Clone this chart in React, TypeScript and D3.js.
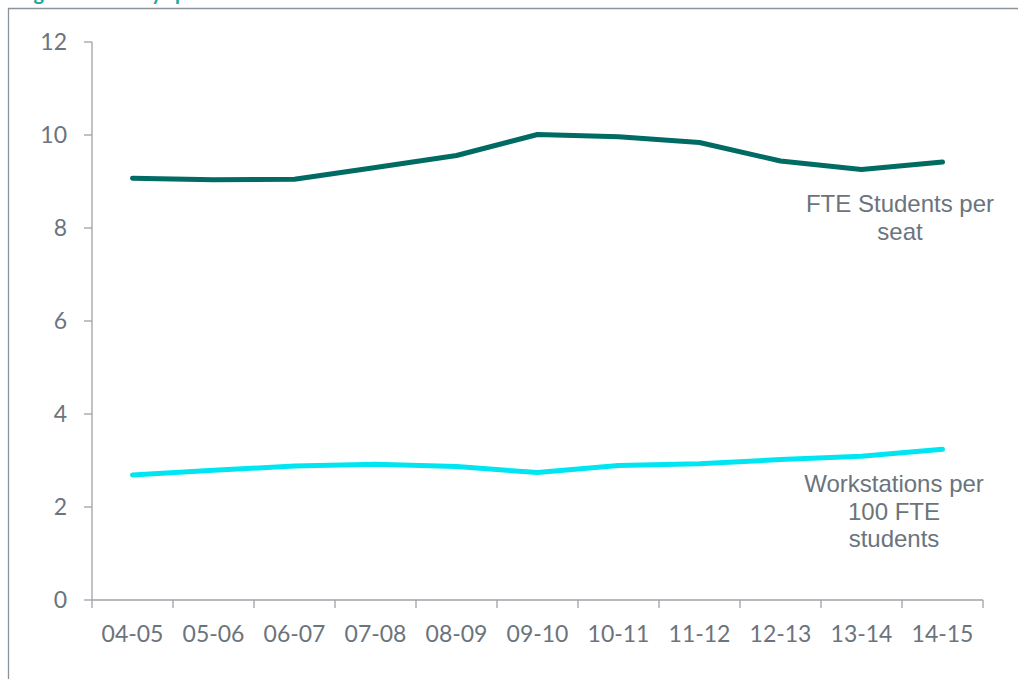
import React from "react";
import { scaleBand, scaleLinear, line } from "d3";

const years = ["04-05", "05-06", "06-07", "07-08", "08-09", "09-10", "10-11", "11-12", "12-13", "13-14", "14-15"];
const studentsPerSeat = [9.07, 9.04, 9.05, 9.3, 9.56, 10.01, 9.96, 9.84, 9.44, 9.26, 9.42];
const workstationsPer100 = [2.69, 2.79, 2.88, 2.92, 2.87, 2.74, 2.89, 2.93, 3.02, 3.09, 3.24];
const yTicks = [0, 2, 4, 6, 8, 10, 12];

const width = 1019;
const height = 679;
const margin = { top: 42, right: 36, bottom: 79, left: 92 };

function App() {
  const innerWidth = width - margin.left - margin.right;
  const innerHeight = height - margin.top - margin.bottom;

  const xScale = scaleBand().domain(years).range([0, innerWidth]);
  const yScale = scaleLinear().domain([0, 12]).range([innerHeight, 0]);
  const cx = (d) => (xScale(d) as number) + xScale.bandwidth() / 2;

  const makeLine = (vals: number[]) =>
    line<number>()
      .x((_, i) => cx(years[i]))
      .y((d) => yScale(d))(vals) as string;

  const textColor = "#6b747c";
  const axisColor = "#9ea3a8";
  const tickFont = "Lato, 'Open Sans', sans-serif";
  const labelFont = "'Liberation Sans', Arial, sans-serif";

  return (
    <svg width={width} height={height} style={{ position: "absolute", left: 0, top: 0 }}>
      {/* clipped title from the page above */}
      <text x={17} y={0} fill="#1aa89a" fontFamily={tickFont} fontWeight="bold" fontSize={20}>
        Figure 7: Library space and workstations
      </text>
      {/* frame */}
      <line x1={8} x2={1018} y1={8.5} y2={8.5} stroke="#8c9398" strokeWidth={1.3} />
      <line x1={8.5} x2={8.5} y1={8} y2={height} stroke="#8c9398" strokeWidth={1.3} />

      <g transform={`translate(${margin.left},${margin.top})`}>
        {/* y axis */}
        <line x1={0} x2={0} y1={0} y2={innerHeight} stroke={axisColor} strokeWidth={1.3} />
        {yTicks.map((d) => (
          <g key={d} transform={`translate(0,${yScale(d)})`}>
            <line x1={-8} x2={0} stroke={axisColor} strokeWidth={1.3} />
            <text x={-25} dy={8} textAnchor="end" fill={textColor} fontFamily={tickFont} fontSize={23}>
              {d}
            </text>
          </g>
        ))}
        {/* x axis */}
        <line x1={0} x2={innerWidth} y1={innerHeight} y2={innerHeight} stroke={axisColor} strokeWidth={1.5} />
        {years.map((d) => (
          <line
            key={"t" + d}
            x1={xScale(d) as number}
            x2={xScale(d) as number}
            y1={innerHeight}
            y2={innerHeight + 8}
            stroke={axisColor}
            strokeWidth={1.3}
          />
        ))}
        <line x1={innerWidth} x2={innerWidth} y1={innerHeight} y2={innerHeight + 8} stroke={axisColor} strokeWidth={1.3} />
        {years.map((d) => (
          <text
            key={"l" + d}
            x={cx(d)}
            y={innerHeight + 42}
            textAnchor="middle"
            fill={textColor}
            fontFamily={tickFont}
            fontSize={23}
          >
            {d}
          </text>
        ))}

        {/* series */}
        <path d={makeLine(studentsPerSeat)} fill="none" stroke="#006b63" strokeWidth={5} strokeLinecap="round" strokeLinejoin="round" />
        <path d={makeLine(workstationsPer100)} fill="none" stroke="#00e5f2" strokeWidth={5} strokeLinecap="round" strokeLinejoin="round" />

        {/* series labels */}
        <text textAnchor="middle" fill={textColor} fontFamily={labelFont} fontSize={24}>
          <tspan x={900 - margin.left} y={212 - margin.top}>FTE Students per</tspan>
          <tspan x={900 - margin.left} y={240 - margin.top}>seat</tspan>
        </text>
        <text textAnchor="middle" fill={textColor} fontFamily={labelFont} fontSize={24}>
          <tspan x={894 - margin.left} y={492 - margin.top}>Workstations per</tspan>
          <tspan x={894 - margin.left} y={520 - margin.top}>100 FTE</tspan>
          <tspan x={894 - margin.left} y={547 - margin.top}>students</tspan>
        </text>
      </g>
    </svg>
  );
}

export default App;
